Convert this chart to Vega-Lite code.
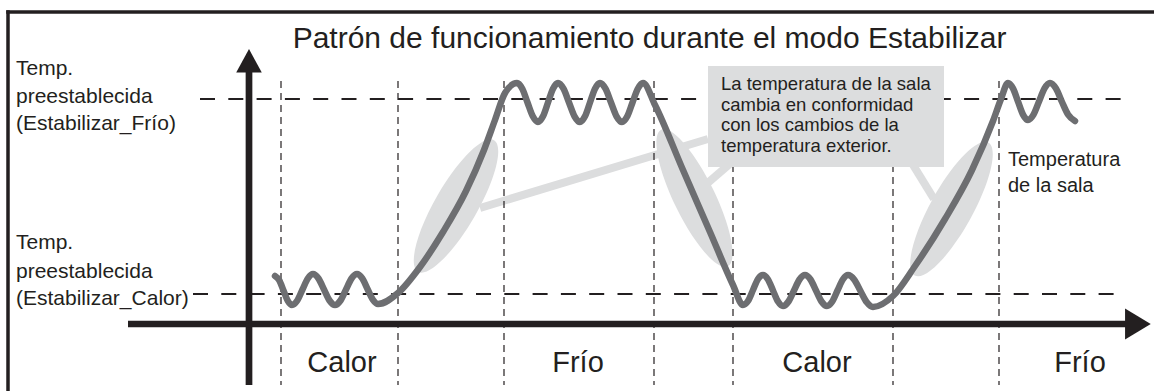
{
  "$schema": "https://vega.github.io/schema/vega-lite/v6.json",
  "width": 1154,
  "height": 391,
  "padding": 0,
  "autosize": {"type": "none"},
  "background": "white",
  "config": {"view": {"stroke": null}},
  "datasets": {
    "border": [
      {"t": -24.1, "v": 31.2, "t2": -24.1, "v2": -6.7},
      {"t": -24.1, "v": 31.2, "t2": 90.5, "v2": 31.2}
    ],
    "axes": [
      {"t": 0, "v": 25.4, "t2": 0, "v2": -6.1},
      {"t": -12.1, "v": 0, "t2": 88.0, "v2": 0}
    ],
    "setpoints": [
      {"t": -4.9, "v": 22.5, "t2": 87.7, "v2": 22.5},
      {"t": -5.6, "v": 3.0, "t2": 87.0, "v2": 3.0}
    ],
    "switches": [
      {"t": 3.2, "v": 24.3, "t2": 3.2, "v2": -6.1},
      {"t": 14.9, "v": 24.3, "t2": 14.9, "v2": -6.1},
      {"t": 25.5, "v": 24.3, "t2": 25.5, "v2": -6.1},
      {"t": 40.5, "v": 24.3, "t2": 40.5, "v2": -6.1},
      {"t": 48.4, "v": 24.3, "t2": 48.4, "v2": -6.1},
      {"t": 64.4, "v": 24.3, "t2": 64.4, "v2": -6.1},
      {"t": 75.0, "v": 24.3, "t2": 75.0, "v2": -6.1}
    ],
    "pointers": [
      {"t": 23.1, "v": 11.6, "t2": 45.9, "v2": 18.5},
      {"t": 45.4, "v": 13.7, "t2": 48.3, "v2": 16.2},
      {"t": 66.1, "v": 16.4, "t2": 68.5, "v2": 12.5}
    ],
    "box": [{"t": 45.9, "v": 25.8, "t2": 69.5, "v2": 15.7}],
    "curve": [
      {"t": 2.6, "v": 4.8}, {"t": 3.03, "v": 4.37}, {"t": 3.45, "v": 3.35}, {"t": 3.88, "v": 2.32},
      {"t": 4.3, "v": 1.9}, {"t": 4.83, "v": 2.35}, {"t": 5.35, "v": 3.45}, {"t": 5.88, "v": 4.55},
      {"t": 6.4, "v": 5.0}, {"t": 6.95, "v": 4.55}, {"t": 7.5, "v": 3.45}, {"t": 8.05, "v": 2.35},
      {"t": 8.6, "v": 1.9}, {"t": 9.15, "v": 2.35}, {"t": 9.7, "v": 3.45}, {"t": 10.25, "v": 4.55},
      {"t": 10.8, "v": 5.0}, {"t": 11.33, "v": 4.56}, {"t": 11.85, "v": 3.5}, {"t": 12.38, "v": 2.44},
      {"t": 12.9, "v": 2.0}, {"t": 14.9, "v": 3.1}, {"t": 17.1, "v": 5.7}, {"t": 19.4, "v": 9.2},
      {"t": 21.7, "v": 13.3}, {"t": 23.5, "v": 17.4}, {"t": 24.6, "v": 20.4}, {"t": 25.6, "v": 23.1},
      {"t": 26.8, "v": 24.1}, {"t": 27.33, "v": 23.53}, {"t": 27.85, "v": 22.15}, {"t": 28.38, "v": 20.77},
      {"t": 28.9, "v": 20.2}, {"t": 29.4, "v": 20.77}, {"t": 29.9, "v": 22.15}, {"t": 30.4, "v": 23.53},
      {"t": 30.9, "v": 24.1}, {"t": 31.45, "v": 23.53}, {"t": 32.0, "v": 22.15}, {"t": 32.55, "v": 20.77},
      {"t": 33.1, "v": 20.2}, {"t": 33.6, "v": 20.77}, {"t": 34.1, "v": 22.15}, {"t": 34.6, "v": 23.53},
      {"t": 35.1, "v": 24.1}, {"t": 35.65, "v": 23.53}, {"t": 36.2, "v": 22.15}, {"t": 36.75, "v": 20.77},
      {"t": 37.3, "v": 20.2}, {"t": 37.83, "v": 20.77}, {"t": 38.35, "v": 22.15}, {"t": 38.88, "v": 23.53},
      {"t": 39.4, "v": 24.1}, {"t": 40.6, "v": 21.9}, {"t": 43.4, "v": 15.4}, {"t": 46.1, "v": 9.2},
      {"t": 48.4, "v": 3.9}, {"t": 49.4, "v": 1.9},
      {"t": 49.9, "v": 2.3}, {"t": 50.4, "v": 3.4}, {"t": 50.9, "v": 4.5}, {"t": 51.4, "v": 4.9},
      {"t": 51.9, "v": 4.45}, {"t": 52.4, "v": 3.35}, {"t": 52.9, "v": 2.25}, {"t": 53.4, "v": 1.8},
      {"t": 53.95, "v": 2.25}, {"t": 54.5, "v": 3.35}, {"t": 55.05, "v": 4.45}, {"t": 55.6, "v": 4.9},
      {"t": 56.15, "v": 4.45}, {"t": 56.7, "v": 3.35}, {"t": 57.25, "v": 2.25}, {"t": 57.8, "v": 1.8},
      {"t": 58.33, "v": 2.25}, {"t": 58.85, "v": 3.35}, {"t": 59.38, "v": 4.45}, {"t": 59.9, "v": 4.9},
      {"t": 60.53, "v": 4.43}, {"t": 61.15, "v": 3.3}, {"t": 61.78, "v": 2.17}, {"t": 62.4, "v": 1.7},
      {"t": 64.4, "v": 2.8}, {"t": 66.6, "v": 5.8}, {"t": 69.6, "v": 10.5}, {"t": 72.3, "v": 15.4},
      {"t": 74.4, "v": 20.3}, {"t": 75.2, "v": 22.5}, {"t": 75.9, "v": 24.1},
      {"t": 76.4, "v": 23.56}, {"t": 76.9, "v": 22.25}, {"t": 77.4, "v": 20.94}, {"t": 77.9, "v": 20.4},
      {"t": 78.45, "v": 20.94}, {"t": 79.0, "v": 22.25}, {"t": 79.55, "v": 23.56}, {"t": 80.1, "v": 24.1},
      {"t": 80.7, "v": 23.55}, {"t": 81.3, "v": 22.2}, {"t": 81.9, "v": 20.95}, {"t": 82.6, "v": 20.3}
    ],
    "title": [{"t": 40.05, "v": 27.65, "label": "Patrón de funcionamiento durante el modo Estabilizar"}],
    "leftLabels": [
      {"t": -23.3, "v": 24.9, "label": "Temp."},
      {"t": -23.3, "v": 22.1, "label": "preestablecida"},
      {"t": -23.3, "v": 19.4, "label": "(Estabilizar_Frío)"},
      {"t": -23.3, "v": 7.5, "label": "Temp."},
      {"t": -23.3, "v": 4.6, "label": "preestablecida"},
      {"t": -23.3, "v": 1.9, "label": "(Estabilizar_Calor)"}
    ],
    "boxText": [
      {"t": 47.2, "v": 23.4, "label": "La temperatura de la sala"},
      {"t": 47.2, "v": 21.35, "label": "cambia en conformidad"},
      {"t": 47.2, "v": 19.3, "label": "con los cambios de la"},
      {"t": 47.2, "v": 17.25, "label": "temperatura exterior."}
    ],
    "roomText": [
      {"t": 75.9, "v": 15.8, "label": "Temperatura"},
      {"t": 75.9, "v": 13.2, "label": "de la sala"}
    ],
    "modeText": [
      {"t": 9.3, "v": -4.8, "label": "Calor"},
      {"t": 32.9, "v": -4.8, "label": "Frío"},
      {"t": 56.8, "v": -4.8, "label": "Calor"},
      {"t": 83.1, "v": -4.8, "label": "Frío"}
    ]
  },
  "encoding": {
    "x": {"field": "t", "type": "quantitative", "scale": {"domain": [-24.9, 90.5], "nice": false, "zero": false}, "axis": null},
    "y": {"field": "v", "type": "quantitative", "scale": {"domain": [-6.7, 32.4], "nice": false, "zero": false}, "axis": null}
  },
  "layer": [
    {
      "data": {"name": "border"},
      "mark": {"type": "rule", "color": "#231f20", "strokeWidth": 3.5, "strokeCap": "square"},
      "encoding": {"x2": {"field": "t2"}, "y2": {"field": "v2"}}
    },
    {
      "data": {"name": "pointers"},
      "mark": {"type": "rule", "color": "#dcddde", "strokeWidth": 8},
      "encoding": {"x2": {"field": "t2"}, "y2": {"field": "v2"}}
    },
    {
      "data": {"values": [{"t": 20.7, "v": 11.8}]},
      "mark": {"type": "point", "shape": "M-1,0A1,0.28,0,1,1,1,0A1,0.28,0,1,1,-1,0Z", "size": 23104, "angle": -60, "filled": true, "color": "#dcddde", "opacity": 1, "strokeWidth": 0}
    },
    {
      "data": {"values": [{"t": 44.55, "v": 12.6}]},
      "mark": {"type": "point", "shape": "M-1,0A1,0.27,0,1,1,1,0A1,0.27,0,1,1,-1,0Z", "size": 23104, "angle": 64, "filled": true, "color": "#dcddde", "opacity": 1, "strokeWidth": 0}
    },
    {
      "data": {"values": [{"t": 70.25, "v": 11.5}]},
      "mark": {"type": "point", "shape": "M-1,0A1,0.28,0,1,1,1,0A1,0.28,0,1,1,-1,0Z", "size": 23104, "angle": -61, "filled": true, "color": "#dcddde", "opacity": 1, "strokeWidth": 0}
    },
    {
      "data": {"name": "switches"},
      "mark": {"type": "rule", "color": "#231f20", "strokeWidth": 1.2, "strokeDash": [7, 5]},
      "encoding": {"x2": {"field": "t2"}, "y2": {"field": "v2"}}
    },
    {
      "data": {"name": "setpoints"},
      "mark": {"type": "rule", "color": "#231f20", "strokeWidth": 1.8, "strokeDash": [15, 13.3]},
      "encoding": {"x2": {"field": "t2"}, "y2": {"field": "v2"}}
    },
    {
      "data": {"name": "box"},
      "mark": {"type": "rect", "color": "#dcddde", "opacity": 1},
      "encoding": {"x2": {"field": "t2"}, "y2": {"field": "v2"}}
    },
    {
      "data": {"name": "boxText"},
      "mark": {"type": "text", "align": "left", "baseline": "alphabetic", "font": "Liberation Sans, Arial, sans-serif", "fontSize": 18.5, "color": "#231f20"},
      "encoding": {"text": {"field": "label"}}
    },
    {
      "data": {"name": "curve"},
      "mark": {"type": "line", "interpolate": "monotone", "color": "#6d6e71", "strokeWidth": 6.5, "strokeCap": "round", "strokeJoin": "round"}
    },
    {
      "data": {"name": "axes"},
      "mark": {"type": "rule", "color": "#231f20", "strokeWidth": 6.7},
      "encoding": {"x2": {"field": "t2"}, "y2": {"field": "v2"}}
    },
    {
      "data": {"values": [{"t": 0, "v": 26.32}]},
      "mark": {"type": "point", "shape": "M0,-0.92L-1,0.92L1,0.92Z", "size": 655, "filled": true, "color": "#231f20", "opacity": 1, "strokeWidth": 0}
    },
    {
      "data": {"values": [{"t": 88.89, "v": 0}]},
      "mark": {"type": "point", "shape": "M0.835,0L-0.835,-1L-0.835,1Z", "size": 949, "filled": true, "color": "#231f20", "opacity": 1, "strokeWidth": 0}
    },
    {
      "data": {"name": "title"},
      "mark": {"type": "text", "align": "center", "baseline": "alphabetic", "font": "Liberation Sans, Arial, sans-serif", "fontSize": 30, "color": "#231f20"},
      "encoding": {"text": {"field": "label"}}
    },
    {
      "data": {"name": "leftLabels"},
      "mark": {"type": "text", "align": "left", "baseline": "alphabetic", "font": "Liberation Sans, Arial, sans-serif", "fontSize": 21, "color": "#231f20"},
      "encoding": {"text": {"field": "label"}}
    },
    {
      "data": {"name": "roomText"},
      "mark": {"type": "text", "align": "left", "baseline": "alphabetic", "font": "Liberation Sans, Arial, sans-serif", "fontSize": 20, "color": "#231f20"},
      "encoding": {"text": {"field": "label"}}
    },
    {
      "data": {"name": "modeText"},
      "mark": {"type": "text", "align": "center", "baseline": "alphabetic", "font": "Liberation Sans, Arial, sans-serif", "fontSize": 29, "color": "#231f20"},
      "encoding": {"text": {"field": "label"}}
    }
  ]
}
